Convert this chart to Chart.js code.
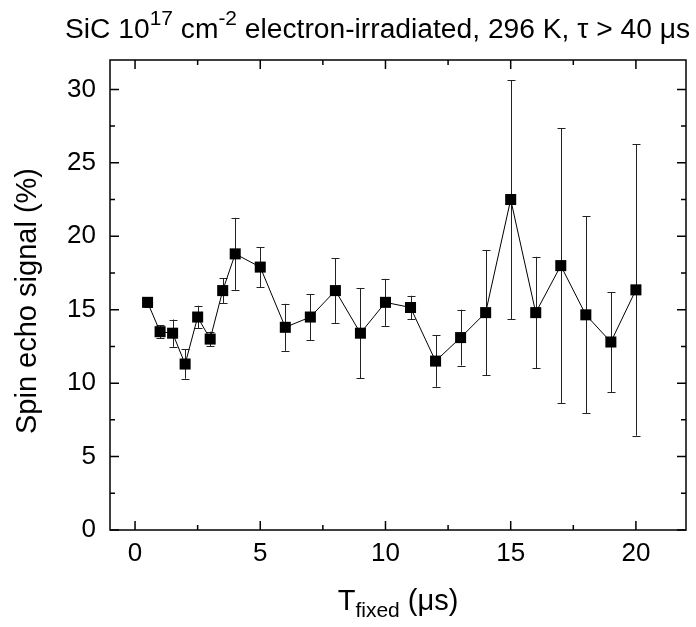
<!DOCTYPE html>
<html><head><meta charset="utf-8">
<script src="https://cdn.jsdelivr.net/npm/chart.js@4/dist/chart.umd.min.js"></script>
<style>html,body{margin:0;padding:0;background:#fff;} #wrap{width:696px;height:627px;}</style>
</head><body><div id="wrap"><canvas id="c" width="696" height="627"></canvas></div>
<script>
// ---- data ----
const tFixed = [0.5, 1, 1.5, 2, 2.5, 3, 3.5, 4, 5, 6, 7, 8, 9, 10, 11, 12, 13, 14, 15, 16, 17, 18, 19, 20];
const signal = [15.5, 13.5, 13.4, 11.3, 14.5, 13.0, 16.3, 18.8, 17.9, 13.8, 14.5, 16.3, 13.4, 15.5, 15.15, 11.5, 13.1, 14.8, 22.5, 14.8, 18.0, 14.65, 12.8, 16.35];
const signalErr = [0.33, 0.43, 0.93, 1.0, 0.77, 0.5, 0.84, 2.45, 1.36, 1.6, 1.56, 2.2, 3.08, 1.6, 0.8, 1.75, 1.9, 4.27, 8.14, 3.8, 9.35, 6.7, 3.4, 9.93];
const xTickValues = [0, 2.5, 5, 7.5, 10, 12.5, 15, 17.5, 20];
const yTickValues = [0, 2.5, 5, 7.5, 10, 12.5, 15, 17.5, 20, 22.5, 25, 27.5, 30];
const xLabelValues = [0, 5, 10, 15, 20];
const yLabelValues = [0, 5, 10, 15, 20, 25, 30];

const FONT = '"Liberation Sans", Arial, Helvetica, sans-serif';

const errorBars = {
  id: 'errorBars',
  beforeDatasetsDraw(chart) {
    const {ctx, scales: {x, y}} = chart;
    ctx.save();
    ctx.strokeStyle = '#222';
    ctx.lineWidth = 1;
    tFixed.forEach((t, i) => {
      const px = Math.round(x.getPixelForValue(t)) + 0.5;
      const yt = y.getPixelForValue(signal[i] + signalErr[i]);
      const yb = y.getPixelForValue(signal[i] - signalErr[i]);
      ctx.beginPath();
      ctx.moveTo(px, yt); ctx.lineTo(px, yb);
      ctx.moveTo(px - 4, Math.round(yt) + 0.5); ctx.lineTo(px + 4, Math.round(yt) + 0.5);
      ctx.moveTo(px - 4, Math.round(yb) + 0.5); ctx.lineTo(px + 4, Math.round(yb) + 0.5);
      ctx.stroke();
    });
    ctx.restore();
  }
};

const frameTicks = {
  id: 'frameTicks',
  afterDraw(chart) {
    const {ctx, chartArea: a, scales: {x, y}} = chart;
    ctx.save();
    ctx.strokeStyle = '#000';
    ctx.lineWidth = 1.5;
    ctx.strokeRect(a.left, a.top, a.right - a.left, a.bottom - a.top);
    ctx.beginPath();
    x.ticks.forEach(tk => {
      const len = xLabelValues.includes(tk.value) ? 9 : 5;
      const px = x.getPixelForValue(tk.value);
      ctx.moveTo(px, a.bottom); ctx.lineTo(px, a.bottom - len);
      ctx.moveTo(px, a.top); ctx.lineTo(px, a.top + len);
    });
    y.ticks.forEach(tk => {
      const len = yLabelValues.includes(tk.value) ? 9 : 5;
      const py = y.getPixelForValue(tk.value);
      ctx.moveTo(a.left, py); ctx.lineTo(a.left + len, py);
      ctx.moveTo(a.right, py); ctx.lineTo(a.right - len, py);
    });
    ctx.stroke();

    // chart title with superscripts
    ctx.fillStyle = '#000';
    ctx.textBaseline = 'alphabetic';
    ctx.textAlign = 'left';
    const big = '27px ' + FONT, small = '20px ' + FONT;
    const parts = [
      ['SiC 10', big, 0], ['17', small, -13], [' cm', big, 0], ['-2', small, -13],
      [' electron-irradiated, 296 K, \u03C4 > 40 \u03BCs', big, 0]
    ];
    ctx.save();
    ctx.translate(65, 38);
    ctx.scale(1.045, 1);
    let cx = 0;
    parts.forEach(([t, f, dy]) => {
      ctx.font = f;
      ctx.fillText(t, cx, dy);
      cx += ctx.measureText(t).width;
    });
    ctx.restore();

    // x-axis title with subscript
    const xParts = [['T', '29px ' + FONT, 0], ['fixed', '21px ' + FONT, 7], [' (\u03BCs)', '29px ' + FONT, 0]];
    let w = 0;
    xParts.forEach(([t, f]) => { ctx.font = f; w += ctx.measureText(t).width; });
    cx = (a.left + a.right) / 2 - w / 2;
    xParts.forEach(([t, f, dy]) => {
      ctx.font = f;
      ctx.fillText(t, cx, 610 + dy);
      cx += ctx.measureText(t).width;
    });

    // y-axis title
    ctx.save();
    ctx.translate(28, (a.top + a.bottom) / 2 + 6);
    ctx.rotate(-Math.PI / 2);
    ctx.font = '29px ' + FONT;
    ctx.textAlign = 'center';
    ctx.textBaseline = 'middle';
    ctx.fillText('Spin echo signal (%)', 0, 0);
    ctx.restore();
    ctx.restore();
  }
};

new Chart(document.getElementById('c'), {
  type: 'line',
  data: {
    datasets: [{
      data: tFixed.map((t, i) => ({x: t, y: signal[i]})),
      borderColor: '#000',
      borderWidth: 1,
      pointStyle: 'rect',
      pointRadius: 7.8,
      pointBackgroundColor: '#000',
      pointBorderColor: '#000',
      pointBorderWidth: 0,
      tension: 0,
      fill: false
    }]
  },
  options: {
    responsive: false,
    animation: false,
    devicePixelRatio: 1,
    layout: {padding: {top: 60, right: 10, left: 0, bottom: 0}},
    plugins: {legend: {display: false}, tooltip: {enabled: false}, title: {display: false}},
    scales: {
      x: {
        type: 'linear', min: -1, max: 22,
        grid: {display: false, drawTicks: false},
        border: {display: false},
        afterBuildTicks: s => { s.ticks = xTickValues.map(v => ({value: v})); },
        afterFit: s => { s.height = 97; },
        ticks: {
          autoSkip: false, maxRotation: 0, padding: 8, color: '#000',
          font: {family: FONT, size: 26},
          callback: v => xLabelValues.includes(v) ? String(v) : ''
        }
      },
      y: {
        type: 'linear', min: 0, max: 32,
        grid: {display: false, drawTicks: false},
        border: {display: false},
        afterBuildTicks: s => { s.ticks = yTickValues.map(v => ({value: v})); },
        afterFit: s => { s.width = 110; },
        ticks: {
          autoSkip: false, padding: 14, color: '#000',
          font: {family: FONT, size: 26},
          callback: v => yLabelValues.includes(v) ? String(v) : ''
        }
      }
    }
  },
  plugins: [errorBars, frameTicks]
});
</script>
</body></html>
